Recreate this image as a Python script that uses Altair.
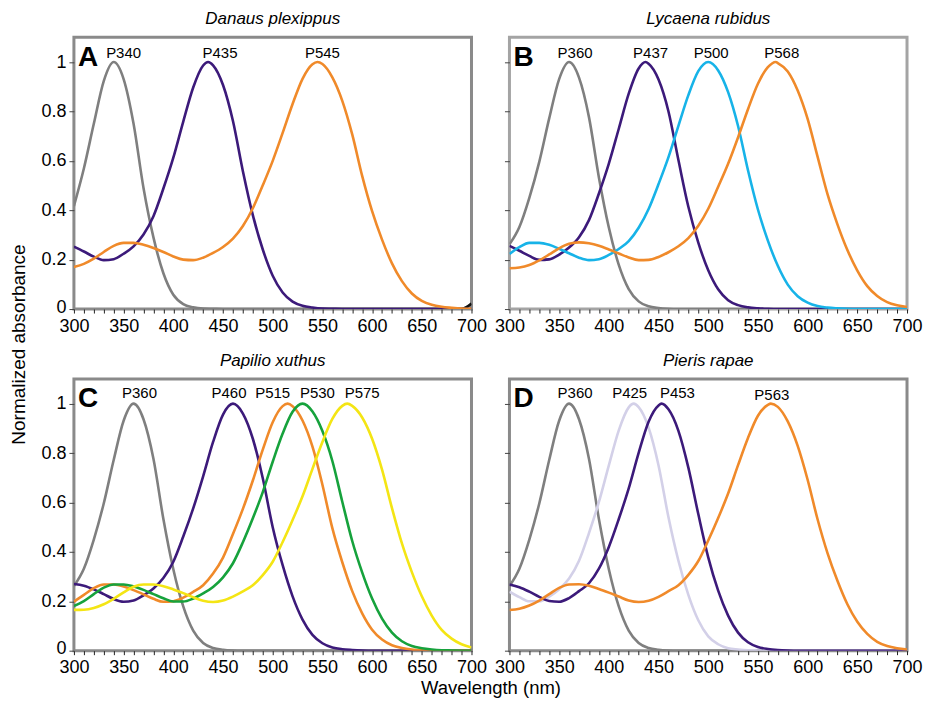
import altair as alt
import pandas as pd

FONT = "Liberation Sans"

WL = [300, 310, 320, 330, 340, 350, 360, 370, 380, 390, 400, 410, 420, 430, 440,
      450, 460, 470, 480, 490, 500, 510, 520, 530, 540, 550, 560, 570, 580, 590,
      600, 610, 620, 630, 640, 650, 660, 670, 680, 690, 700]

SPECIES = ["Danaus plexippus", "Lycaena rubidus", "Papilio xuthus", "Pieris rapae"]
LETTERS = ["A", "B", "C", "D"]

GRAY = "#7f7f7f"
PURPLE = "#3c1a7a"
ORANGE = "#f08a2a"
CYAN = "#17b3e8"
GREEN = "#16a23c"
YELLOW = "#f4e514"
LAVENDER = "#d3d0e8"
BLACK = "#111111"

# ---- normalized absorbance read at 10 nm steps (300..700 nm) ----
P340 = [.417, .569, .750, .923, 1.0, .931, .750, .490, .290, .145, .058, .020, .007, .002, .001,
        0, 0, 0, 0, 0, 0, 0, 0, 0, 0, 0, 0, 0, 0, 0, 0, 0, 0, 0, 0, 0, 0, 0, 0, 0, 0]
P435 = [.253, .233, .212, .198, .202, .224, .254, .302, .376, .488, .613, .759, .897, .986, .987,
        .907, .761, .558, .380, .241, .135, .067, .030, .013, .006, .002, .001,
        0, 0, 0, 0, 0, 0, 0, 0, 0, 0, 0, 0, 0, 0]
P545 = [.170, .183, .204, .231, .256, .268, .268, .260, .247, .231, .213, .200, .198, .208, .227,
        .251, .285, .336, .408, .501, .600, .713, .830, .932, .991, .992, .938, .843, .707, .539,
        .396, .281, .185, .113, .063, .033, .017, .009, .005, .002, .001]
P360 = [.262, .332, .450, .596, .772, .931, 1.0, .937, .777, .533, .330, .179, .081, .031, .011,
        .004, .001, 0, 0, 0, 0, 0, 0, 0, 0, 0, 0, 0, 0, 0, 0, 0, 0, 0, 0, 0, 0, 0, 0, 0, 0]
P437 = [.256, .236, .215, .199, .201, .220, .249, .291, .360, .468, .589, .730, .872, .974, .993,
        .929, .800, .603, .414, .269, .157, .080, .036, .016, .007, .003, .001,
        0, 0, 0, 0, 0, 0, 0, 0, 0, 0, 0, 0, 0, 0]
P500 = [.223, .251, .268, .268, .260, .244, .226, .208, .198, .202, .219, .243, .275, .329, .405,
        .506, .615, .742, .866, .963, 1.0, .966, .878, .741, .562, .403, .277, .175, .099, .052,
        .026, .012, .006, .003, .001, 0, 0, 0, 0, 0, 0]
P568 = [.165, .168, .178, .197, .221, .246, .264, .270, .266, .256, .241, .225, .209, .198, .199,
        .211, .230, .254, .287, .337, .406, .495, .588, .695, .809, .912, .979, .996, .962, .885,
        .770, .617, .465, .343, .239, .156, .093, .053, .028, .015, .008]
P460 = [.270, .263, .248, .229, .209, .198, .203, .224, .252, .294, .360, .462, .576, .706, .845,
        .956, 1.0, .960, .858, .698, .500, .346, .220, .126, .064, .030, .013, .006, .003, .001,
        0, 0, 0, 0, 0, 0, 0, 0, 0, 0, 0]
P515 = [.198, .226, .253, .268, .268, .260, .245, .228, .210, .198, .200, .215, .238, .265, .312,
        .377, .472, .574, .689, .814, .925, .990, .990, .932, .826, .672, .496, .358, .241, .151,
        .085, .045, .022, .011, .005, .002, .001, 0, 0, 0, 0]
P530 = [.181, .201, .229, .255, .268, .268, .260, .246, .229, .212, .199, .199, .211, .232, .258,
        .297, .354, .439, .536, .642, .765, .879, .967, 1.0, .968, .889, .768, .603, .444, .317,
        .211, .130, .073, .038, .019, .010, .005, .002, .001, 0, 0]
P575 = [.165, .166, .173, .188, .210, .236, .259, .268, .268, .261, .248, .233, .216, .202, .197,
        .203, .219, .240, .265, .306, .360, .440, .529, .625, .736, .845, .938, .991, .991, .944,
        .858, .733, .577, .434, .318, .220, .142, .084, .049, .026, .013]
P425 = [.239, .217, .200, .200, .219, .249, .292, .364, .476, .602, .750, .892, .985, .986, .903,
        .750, .540, .364, .226, .123, .058, .026, .010, .005, .002, .001,
        0, 0, 0, 0, 0, 0, 0, 0, 0, 0, 0, 0, 0, 0, 0]
P453 = [.268, .257, .239, .218, .201, .198, .213, .241, .273, .332, .420, .533, .657, .801, .927,
        .993, .977, .890, .741, .553, .378, .243, .142, .073, .034, .015, .007, .003, .001,
        0, 0, 0, 0, 0, 0, 0, 0, 0, 0, 0, 0]
P563 = [.165, .170, .183, .203, .229, .254, .268, .269, .263, .250, .235, .219, .203, .197, .202,
        .218, .241, .265, .307, .363, .446, .537, .636, .751, .861, .951, .995, .987, .928, .829,
        .692, .532, .395, .283, .188, .117, .068, .036, .019, .010, .005]

# faint black trace seen along the baseline of panel A (530..700 nm)
A_TRACE_WL = [530, 540, 550, 560, 570, 580, 590, 600, 610, 620, 630, 640, 650, 660, 670, 680,
              690, 700]
A_TRACE_V = [0, 0, 0, 0, 0, 0, 0, 0, 0, 0, 0, 0, 0, 0, 0, 0, 0, 0.022]

# panel contents: curve names, peak wavelengths, colours, values
A_NAMES = ["P340", "P435", "P545"]
A_PEAKS = [340, 435, 545]
A_COLORS = [GRAY, PURPLE, ORANGE]
A_VALUES = [P340, P435, P545]
A_LABEL_X = [350, 447, 550]
A_LABEL_Y = [1.035, 1.035, 1.035]

B_NAMES = ["P360", "P437", "P500", "P568"]
B_PEAKS = [360, 437, 500, 568]
B_COLORS = [GRAY, PURPLE, CYAN, ORANGE]
B_VALUES = [P360, P437, P500, P568]
B_LABEL_X = [366, 442, 503, 574]
B_LABEL_Y = [1.035, 1.035, 1.035, 1.035]

C_NAMES = ["P360", "P460", "P515", "P530", "P575"]
C_PEAKS = [360, 460, 515, 530, 575]
C_COLORS = [GRAY, PURPLE, ORANGE, GREEN, YELLOW]
C_VALUES = [P360, P460, P515, P530, P575]
C_LABEL_X = [366, 456, 500, 545, 590]
C_LABEL_Y = [1.045, 1.045, 1.045, 1.045, 1.045]

D_NAMES = ["P360", "P425", "P453", "P563"]
D_PEAKS = [360, 425, 453, 563]
D_COLORS = [GRAY, LAVENDER, PURPLE, ORANGE]
D_VALUES = [P360, P425, P453, P563]
D_LABEL_X = [366, 421, 469, 564]
D_LABEL_Y = [1.045, 1.045, 1.045, 1.035]

LETTER_X = 304
LETTER_Y = 0.985

Y_TICKS = [0, 0.2, 0.4, 0.6, 0.8, 1]

PANEL_W = 398
PANEL_H = 272

XS = alt.Scale(domain=[300, 700], nice=False, zero=False)
YS = alt.Scale(domain=[0, 1.1], nice=False, zero=True)


def x_axis(title):
    kw = dict(values=WL, labelExpr="datum.value % 50 === 0 ? datum.label : ''",
              tickSize=4, tickColor="#222", tickWidth=1, domain=False, grid=False,
              labelFontSize=18, labelPadding=4, labelFlush=False, labelOverlap=False,
              labelColor="black")
    if title:
        kw.update(title=title, titleX=(PANEL_W * 2 + 38) / 2, titleY=43, titleAlign="center",
                  titleBaseline="alphabetic", titleFontSize=18.5, titleFontWeight="normal",
                  titleColor="black")
    else:
        kw.update(title=None)
    return alt.Axis(**kw)


def y_axis(labels, title):
    kw = dict(values=Y_TICKS, format="~g", tickSize=5, tickColor="#444", tickWidth=1,
              domain=False, grid=False, labels=labels, labelFontSize=18, labelPadding=3,
              labelColor="black",
              labelOffset={"condition": {"test": "datum.value === 0", "value": -2}, "value": 0})
    if title:
        kw.update(title=title, titleX=-45, titleY=PANEL_H + 35, titleAngle=270,
                  titleAlign="center", titleBaseline="bottom", titleFontSize=19,
                  titleFontWeight="normal", titleColor="black")
    else:
        kw.update(title=None)
    return alt.Axis(**kw)


def line_layer(wls, vals, col, xa, ya):
    df = pd.DataFrame({"wl": wls, "v": vals})
    return (
        alt.Chart(df).mark_line(color=col, strokeWidth=2.6, interpolate="monotone", clip=True)
        .encode(x=alt.X("wl:Q", scale=XS, axis=xa), y=alt.Y("v:Q", scale=YS, axis=ya))
    )


def panel(idx, names, peaks, colors, values, lab_x, lab_y, ylabels, ytitle, xtitle, frame,
          extra=None):
    xa = x_axis(xtitle)
    ya = y_axis(ylabels, ytitle)
    layers = []
    if extra is not None:
        layers.append(line_layer(extra[0], extra[1], BLACK, xa, ya))
    for name, pk, col, vals in zip(names, peaks, colors, values):
        pts = list(zip(WL, vals))
        if pk not in WL:
            pts.append((pk, 1.0))
        pts.sort()
        layers.append(line_layer([p[0] for p in pts], [p[1] for p in pts], col, xa, ya))
    lab_df = pd.DataFrame({"wl": lab_x, "v": lab_y, "t": names})
    layers.append(
        alt.Chart(lab_df).mark_text(font=FONT, fontSize=15, color="black", align="center",
                                    baseline="middle")
        .encode(x=alt.X("wl:Q", scale=XS, axis=xa), y=alt.Y("v:Q", scale=YS, axis=ya), text="t:N")
    )
    let_df = pd.DataFrame({"wl": [LETTER_X], "v": [LETTER_Y], "t": [LETTERS[idx]]})
    layers.append(
        alt.Chart(let_df).mark_text(font=FONT, fontSize=28, fontWeight="bold", color="black",
                                    align="left", baseline="alphabetic")
        .encode(x=alt.X("wl:Q", scale=XS, axis=xa), y=alt.Y("v:Q", scale=YS, axis=ya), text="t:N")
    )
    return alt.layer(*layers).properties(
        width=PANEL_W, height=PANEL_H,
        title=alt.TitleParams(text=SPECIES[idx], font=FONT, fontSize=17, fontStyle="italic",
                              fontWeight="normal", color="black", offset=9, anchor="middle"),
        view=alt.ViewBackground(stroke=frame, strokeWidth=3, fill="white"),
    )


pA = panel(0, A_NAMES, A_PEAKS, A_COLORS, A_VALUES, A_LABEL_X, A_LABEL_Y, True,
           "Normalized absorbance", None, "#8a8a8a", extra=(A_TRACE_WL, A_TRACE_V))
pB = panel(1, B_NAMES, B_PEAKS, B_COLORS, B_VALUES, B_LABEL_X, B_LABEL_Y, False, None, None,
           "#a4a4a4")
pC = panel(2, C_NAMES, C_PEAKS, C_COLORS, C_VALUES, C_LABEL_X, C_LABEL_Y, True, None,
           "Wavelength (nm)", "#8a8a8a")
pD = panel(3, D_NAMES, D_PEAKS, D_COLORS, D_VALUES, D_LABEL_X, D_LABEL_Y, False, None, None,
           "#8a8a8a")

chart = alt.concat(
    pA, pB, pC, pD, columns=2, bounds="flush",
    spacing=alt.RowColnumber(row=70, column=38),
    padding={"left": 0, "top": 0, "right": 0, "bottom": 0},
).configure(font=FONT).configure_view(strokeWidth=3)

chart.save("out.html", embed_options={"renderer": "svg", "actions": False})
